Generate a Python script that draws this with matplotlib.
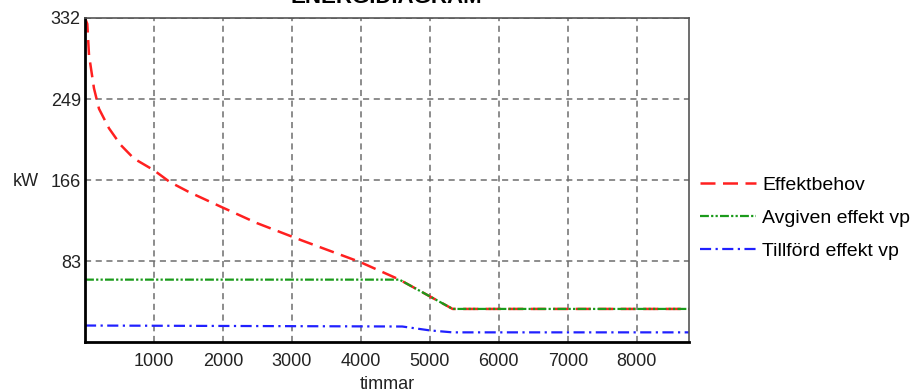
import numpy as np
import matplotlib
matplotlib.use("Agg")
import matplotlib.pyplot as plt

plt.rcParams['font.family'] = ['Liberation Sans', 'DejaVu Sans']

# data (hours, kW)
behov_h = [0, 33, 58, 130, 203, 348, 517, 710, 1000, 1230, 1500, 1960, 2490, 3150, 3990, 4560, 5330, 8760]
behov_kw = [332, 326, 294, 260, 239, 219, 202, 188, 176, 164, 154, 139, 122, 104, 82, 64, 34, 34]

avgiven_h = [0, 4560, 5330, 8760]
avgiven_kw = [64, 64, 34, 34]

tillford_h = [0, 4600, 5000, 5330, 8760]
tillford_kw = [17, 16, 12, 10, 10]

yticks = [83, 166, 249, 332]
xticks = [1000, 2000, 3000, 4000, 5000, 6000, 7000, 8000]

fig = plt.figure(figsize=(9.14, 3.91), dpi=100)
ax = fig.add_axes([0.093, 0.125, 0.661, 0.829])

ax.plot(behov_h, behov_kw, color='#ff2020', linestyle=(0, (6, 3)), linewidth=1.8, label='Effektbehov')
ax.plot(avgiven_h, avgiven_kw, color='#1a9a1a', linestyle=(0, (4, 1, 1, 1, 1, 1)), linewidth=1.6,
        label='Avgiven effekt vp')
ax.plot(tillford_h, tillford_kw, color='#2020ff', linestyle=(0, (5, 2, 1, 2)), linewidth=1.6,
        label='Tillförd effekt vp')

ax.set_xlim(0, 8760)
ax.set_ylim(0, 332)
ax.set_xticks(xticks)
ax.set_yticks(yticks)
ax.tick_params(length=0, labelsize=13, labelcolor='#222222')
ax.tick_params(axis='x', pad=8)
ax.tick_params(axis='y', pad=3)
ax.grid(True, color='#6e6e6e', linestyle=(0, (4, 3)), linewidth=1.1)

for s in ax.spines.values():
    s.set_linewidth(1.2)
    s.set_color('#555555')
ax.spines['left'].set_linewidth(2)
ax.spines['bottom'].set_linewidth(2)
ax.spines['left'].set_color('black')
ax.spines['bottom'].set_color('black')

ax.set_xlabel('timmar', fontsize=13, color='#222222', labelpad=4)
fig.text(26 / 914, (391 - 181) / 391, 'kW', fontsize=13, color='#222222', ha='center', va='center')
# title sits partly above the top edge, as in the original
fig.text(0.423, 1 - 8 / 391, 'ENERGIDIAGRAM', fontsize=16, fontweight='bold', ha='center', va='bottom')

ax.legend(loc='center left', bbox_to_anchor=(1.018, (342 - 218) / 324), frameon=False, fontsize=14,
          handlelength=2.9, labelspacing=0.8, handletextpad=0.3, borderpad=0, borderaxespad=0)

fig.savefig('out.png', dpi=100)
